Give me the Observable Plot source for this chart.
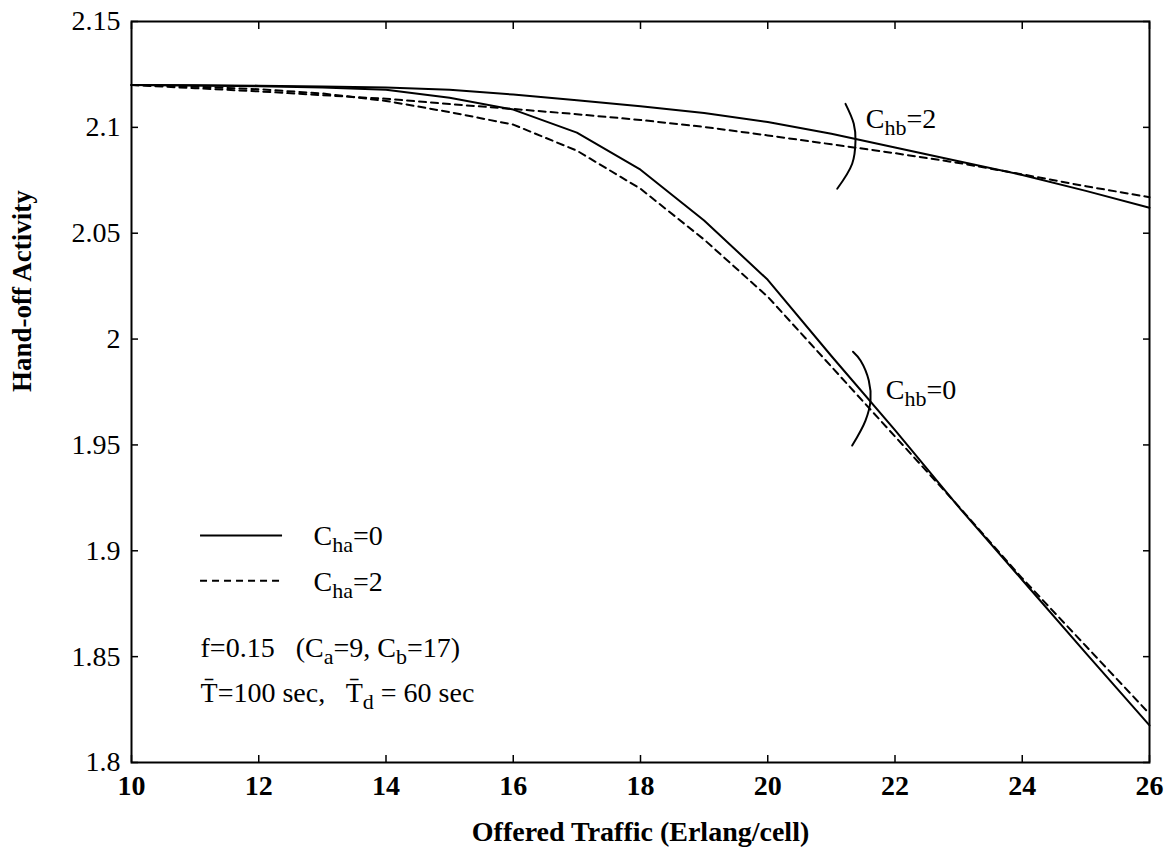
<!DOCTYPE html>
<html>
<head>
<meta charset="utf-8">
<script src="https://cdn.jsdelivr.net/npm/d3@7"></script>
<script src="https://cdn.jsdelivr.net/npm/@observablehq/plot@0.6"></script>
<style>
  html, body { margin: 0; padding: 0; background: #fff; }
  #chart svg { display: block; }
  #chart svg text, #chart svg tspan { font-family: "Liberation Serif", "Times New Roman", serif; }
</style>
</head>
<body>
<div id="chart"></div>
<script>
// ---- data ----
const traffic = [10, 11, 12, 13, 14, 15, 16, 17, 18, 19, 20, 21, 22, 23, 24, 25, 26];
const solidHb0  = [2.1200, 2.1198, 2.1194, 2.1188, 2.1178, 2.1140, 2.1084, 2.0975, 2.0800, 2.0560, 2.0280, 1.9920, 1.9570, 1.9207, 1.8862, 1.8517, 1.8175];
const dashedHb0 = [2.1200, 2.1192, 2.1180, 2.1160, 2.1125, 2.1072, 2.1013, 2.0890, 2.0710, 2.0470, 2.0200, 1.9870, 1.9540, 1.9210, 1.8870, 1.8550, 1.8230];
const solidHb2  = [2.1200, 2.1199, 2.1197, 2.1193, 2.1188, 2.1178, 2.1155, 2.1128, 2.1100, 2.1068, 2.1025, 2.0970, 2.0905, 2.0840, 2.0775, 2.0700, 2.0620];
const dashedHb2 = [2.1200, 2.1185, 2.1170, 2.1152, 2.1135, 2.1110, 2.1087, 2.1062, 2.1035, 2.1002, 2.0962, 2.0920, 2.0878, 2.0832, 2.0778, 2.0722, 2.0670];

const xTicks = [10, 12, 14, 16, 18, 20, 22, 24, 26];
const xTickLabels = ["10", "12", "14", "16", "18", "20", "22", "24", "26"];
const yTicks = [1.8, 1.85, 1.9, 1.95, 2.0, 2.05, 2.1, 2.15];
const yTickLabels = ["1.8", "1.85", "1.9", "1.95", "2", "2.05", "2.1", "2.15"];

const xLabel = "Offered Traffic (Erlang/cell)";
const yLabel = "Hand-off Activity";

// bracket arcs marking the two curve families
const arcHb2 = [[21.222, 2.1111], [21.352, 2.1017], [21.379, 2.0938], [21.327, 2.0828], [21.092, 2.0710]];
const arcHb0 = [[21.340, 1.9940], [21.458, 1.9899], [21.588, 1.9804], [21.615, 1.9710], [21.536, 1.9615], [21.327, 1.9497]];
const curveLabels = ["C_{hb}=2", "C_{hb}=0"];
const curveLabelX = [21.54, 21.855];
const curveLabelY = [2.0999, 1.9719];

// legend
const legendLabels = ["C_{ha}=0", "C_{ha}=2"];
const legendLineX = [11.085, 12.374];
const legendLineY = [1.9072, 1.8859];
const legendLabelX = 12.86;
const legendLabelY = [1.9025, 1.8812];

// parameter notes
const noteLines = ["f=0.15   (C_{a}=9, C_{b}=17)", "T\u0304=100 sec,   T\u0304_{d} = 60 sec"];
const noteX = 11.085;
const noteY = [1.8496, 1.8288];

// ---- build ----
const pairs = (ys) => traffic.map((x, i) => [x, ys[i]]);
const font = "'Liberation Serif', 'Times New Roman', serif";

const chart = Plot.plot({
  width: 1174,
  height: 867,
  marginTop: 21,
  marginRight: 25,
  marginBottom: 105,
  marginLeft: 131,
  style: { fontFamily: font, background: "#fff", color: "#000" },
  x: { domain: [10, 26] },
  y: { domain: [1.8, 2.15] },
  marks: [
    // axes: labels + inward ticks
    Plot.axisX({ anchor: "bottom", ticks: xTicks, tickSize: -7, tickPadding: 20, label: null,
      tickFormat: (d, i) => xTickLabels[i], fontSize: 28, fontWeight: "bold", fontFamily: font, strokeWidth: 1.5 }),
    Plot.axisX({ anchor: "top", ticks: xTicks, tickSize: -7, label: null, tickFormat: () => "", strokeWidth: 1.5 }),
    Plot.axisY({ anchor: "left", ticks: yTicks, tickSize: -7, tickPadding: 18, label: null,
      tickFormat: (d, i) => yTickLabels[i], fontSize: 28, fontFamily: font, strokeWidth: 1.5 }),
    Plot.axisY({ anchor: "right", ticks: yTicks, tickSize: -7, label: null, tickFormat: () => "", strokeWidth: 1.5 }),
    Plot.frame({ stroke: "#000", strokeWidth: 2 }),

    // curves
    Plot.line(pairs(solidHb2), { stroke: "#000", strokeWidth: 2 }),
    Plot.line(pairs(dashedHb2), { stroke: "#000", strokeWidth: 2, strokeDasharray: "7,5" }),
    Plot.line(pairs(solidHb0), { stroke: "#000", strokeWidth: 2 }),
    Plot.line(pairs(dashedHb0), { stroke: "#000", strokeWidth: 2, strokeDasharray: "7,5" }),

    // arcs and their labels
    Plot.line(arcHb2, { stroke: "#000", strokeWidth: 2, curve: "catmull-rom" }),
    Plot.line(arcHb0, { stroke: "#000", strokeWidth: 2, curve: "catmull-rom" }),
    Plot.text(curveLabels, { x: (d, i) => curveLabelX[i], y: (d, i) => curveLabelY[i],
      text: d => d, textAnchor: "start", lineAnchor: "bottom", fontSize: 28, fontFamily: font, fill: "#000" }),

    // legend
    Plot.ruleY([legendLineY[0]], { x1: legendLineX[0], x2: legendLineX[1], stroke: "#000", strokeWidth: 2 }),
    Plot.ruleY([legendLineY[1]], { x1: legendLineX[0], x2: legendLineX[1], stroke: "#000", strokeWidth: 2, strokeDasharray: "7,5" }),
    Plot.text(legendLabels, { x: legendLabelX, y: (d, i) => legendLabelY[i], text: d => d,
      textAnchor: "start", lineAnchor: "bottom", fontSize: 28, fontFamily: font, fill: "#000" }),

    // notes
    Plot.text(noteLines, { x: noteX, y: (d, i) => noteY[i], text: d => d,
      textAnchor: "start", lineAnchor: "bottom", fontSize: 28, fontFamily: font, fill: "#000" }),

    // axis titles
    Plot.text([xLabel], { frameAnchor: "bottom", dy: 78, text: d => d, fontSize: 28, fontWeight: "bold", fontFamily: font, fill: "#000" }),
    Plot.text([yLabel], { frameAnchor: "left", dx: -109, rotate: -90, text: d => d, fontSize: 27, fontWeight: "bold", fontFamily: font, fill: "#000" })
  ]
});

// rich text: subscripts written as _{...}
const SVGNS = "http://www.w3.org/2000/svg";
chart.querySelectorAll("text").forEach(t => {
  const s = t.textContent;
  if (!s.includes("_{")) return;
  const parts = s.split(/(_\{[^}]*\})/);
  t.textContent = "";
  let down = false;
  for (const p of parts) {
    if (!p) continue;
    const ts = document.createElementNS(SVGNS, "tspan");
    if (p.startsWith("_{")) {
      ts.textContent = p.slice(2, -1);
      ts.setAttribute("font-size", "22");
      ts.setAttribute("dy", "7");
      down = true;
    } else {
      ts.textContent = p;
      if (down) { ts.setAttribute("dy", "-7"); down = false; }
    }
    t.appendChild(ts);
  }
});

document.getElementById("chart").appendChild(chart);
</script>
</body>
</html>
